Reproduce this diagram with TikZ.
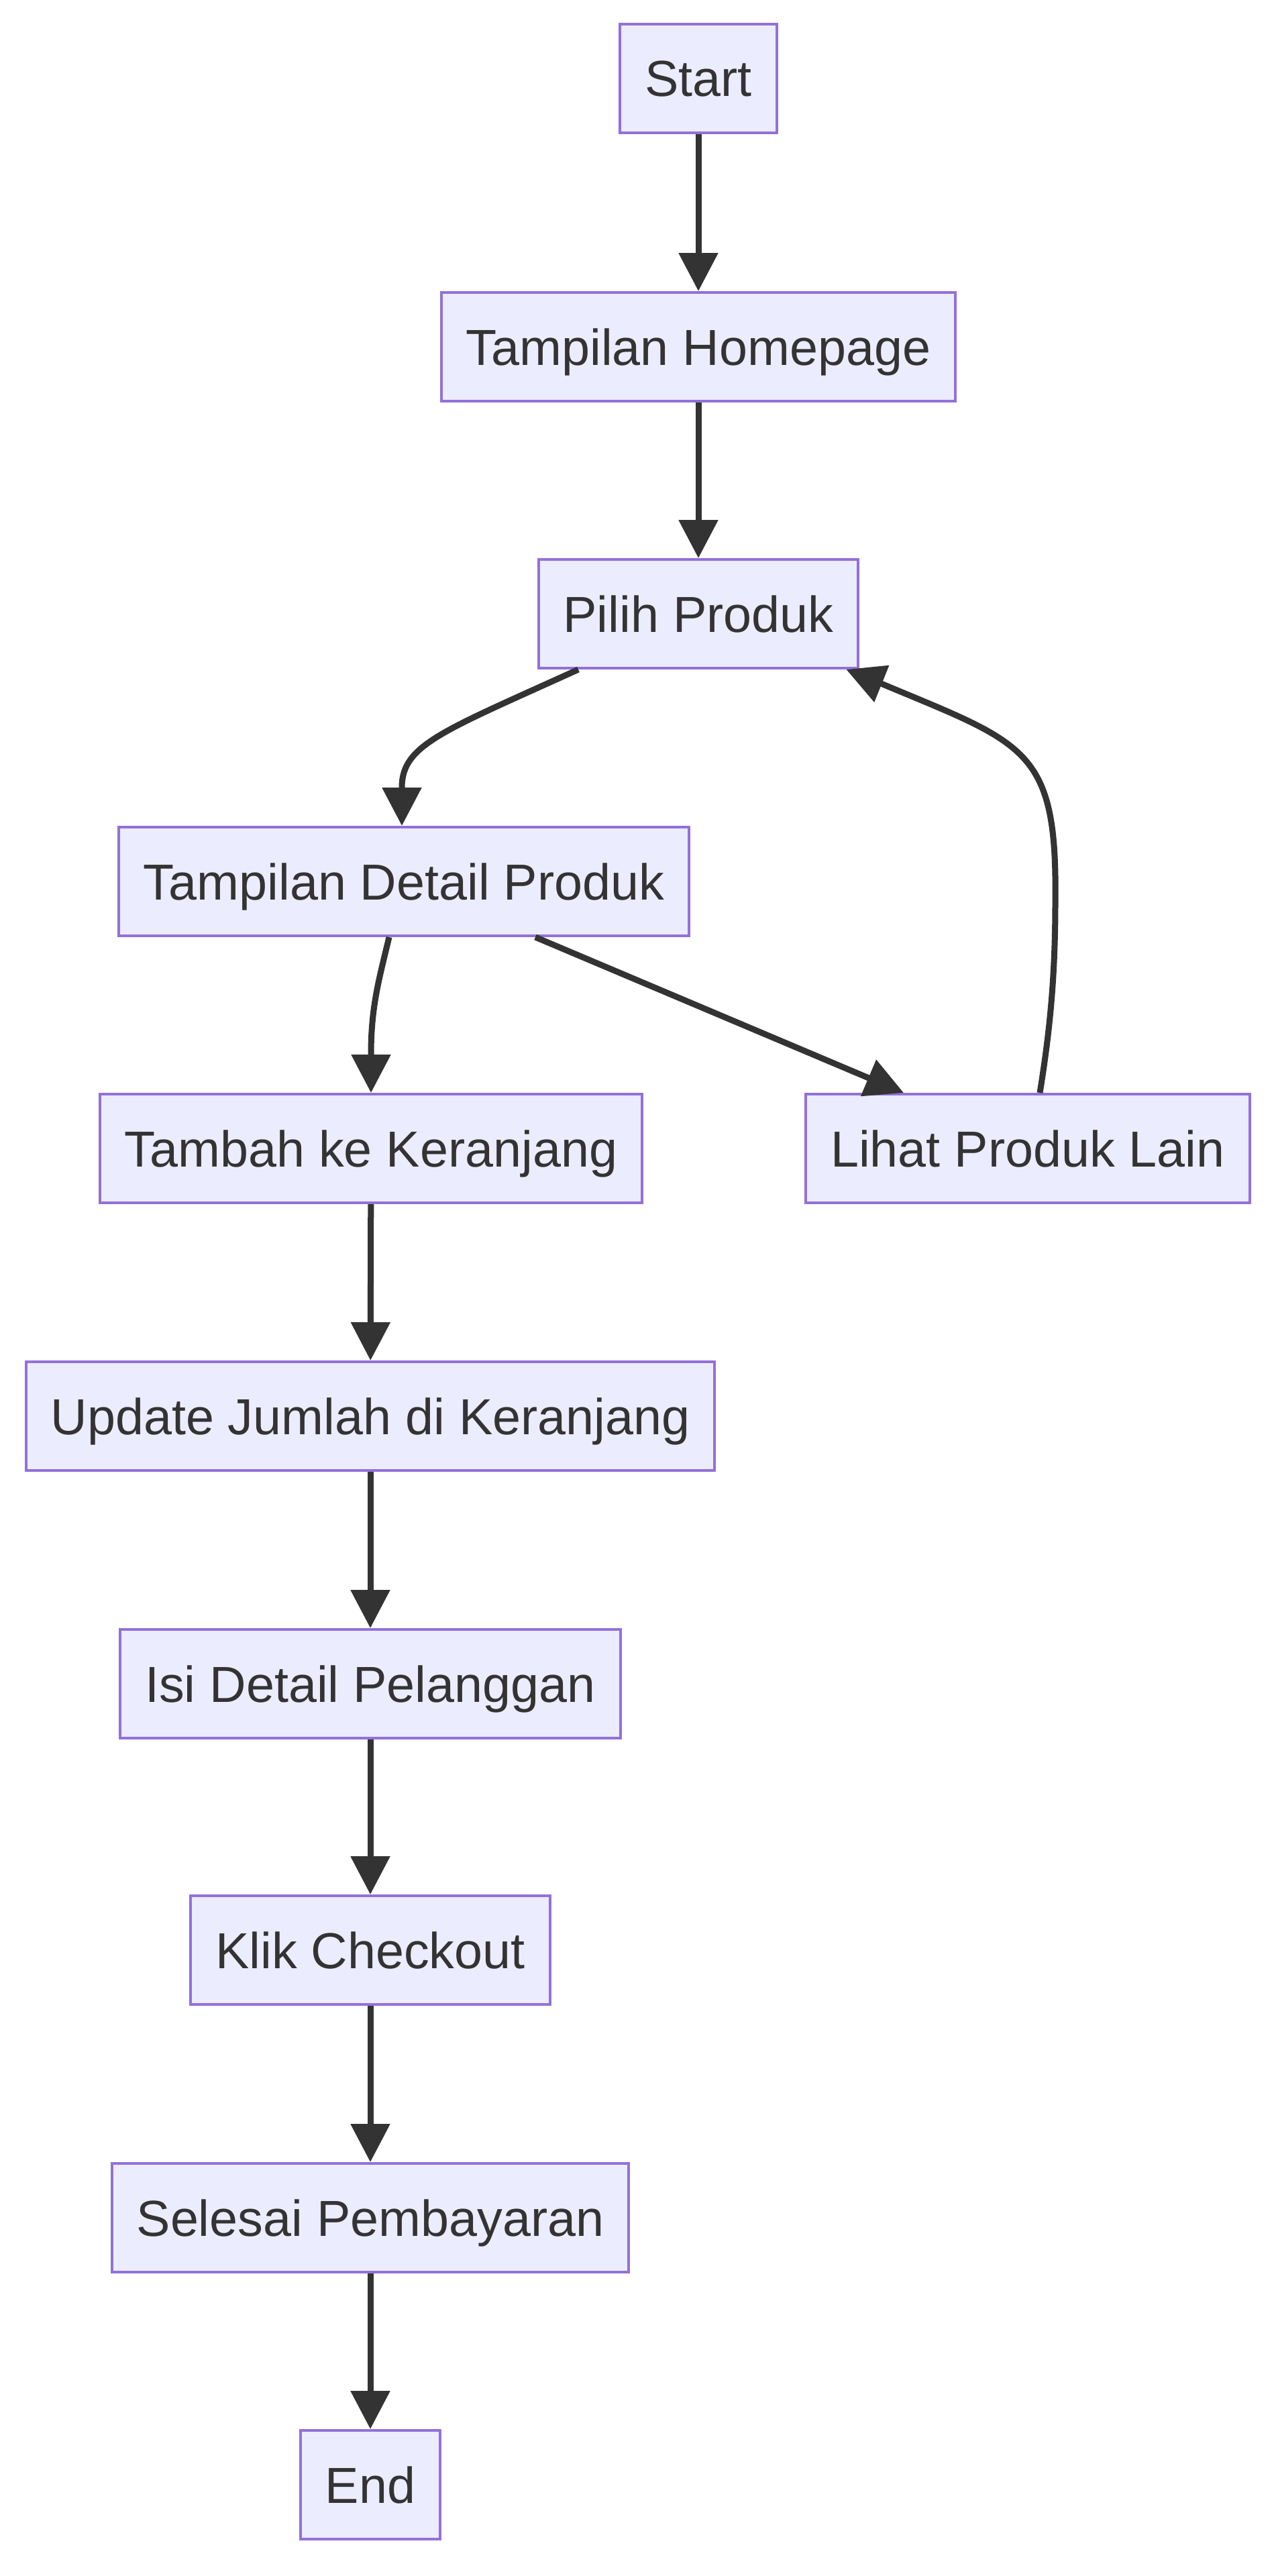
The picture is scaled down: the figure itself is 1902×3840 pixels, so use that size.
\documentclass[tikz,border=0pt]{standalone}
\usepackage{fontspec}
\setmainfont{Liberation Sans}
\usetikzlibrary{arrows.meta}
\definecolor{nfill}{HTML}{ECECFF}
\definecolor{nstroke}{HTML}{9370DB}
\definecolor{ink}{HTML}{333333}
\begin{document}
\begin{tikzpicture}[x=1pt,y=-1pt,
  box/.style={draw=nstroke, fill=nfill, line width=4pt, text=ink,
    font=\fontsize{75.5pt}{90pt}\selectfont, minimum height=162pt,
    inner xsep=37pt, inner ysep=0pt, text height=60pt, text depth=6pt},
  edge/.style={draw=ink, line width=9pt, -{Triangle[length=57pt,width=57pt]}}]
\useasboundingbox (0,0) rectangle (1902,3840);
\node[box] (start) at (1041,117) {Start};
\node[box] (home) at (1041,517) {Tampilan Homepage};
\node[box] (pil) at (1041,915) {Pilih Produk};
\node[box] (det) at (602,1314) {Tampilan Detail Produk};
\node[box] (tam) at (553,1712) {Tambah ke Keranjang};
\node[box] (lih) at (1532,1712) {Lihat Produk Lain};
\node[box] (upd) at (552,2111) {Update Jumlah di Keranjang};
\node[box] (isi) at (552,2510) {Isi Detail Pelanggan};
\node[box] (klik) at (552,2907) {Klik Checkout};
\node[box] (sel) at (552,3306) {Selesai Pembayaran};
\node[box] (end) at (552,3704) {End};
\draw[edge] (start) -- (home);
\draw[edge] (home) -- (pil);
\draw[edge] ([xshift=-179pt]pil.south) .. controls (660,1090) and (599,1110) .. (599,1174) -- ([xshift=-3pt]det.north);
\draw[edge] ([xshift=-22pt]det.south) .. controls (565,1460) and (553,1500) .. (553,1572) -- (tam.north);
\draw[edge] ([xshift=196pt]det.south) -- ([xshift=-185pt]lih.north);
\draw[edge] ([xshift=18pt]lih.north) .. controls (1566,1530) and (1573,1450) .. (1573,1343)
  .. controls (1576,1115) and (1528,1109) .. (1316,1020) -- ([xshift=-20pt]pil.south east);
\draw[edge] (tam) -- (upd);
\draw[edge] (upd) -- (isi);
\draw[edge] (isi) -- (klik);
\draw[edge] (klik) -- (sel);
\draw[edge] (sel) -- (end);
\end{tikzpicture}
\end{document}
